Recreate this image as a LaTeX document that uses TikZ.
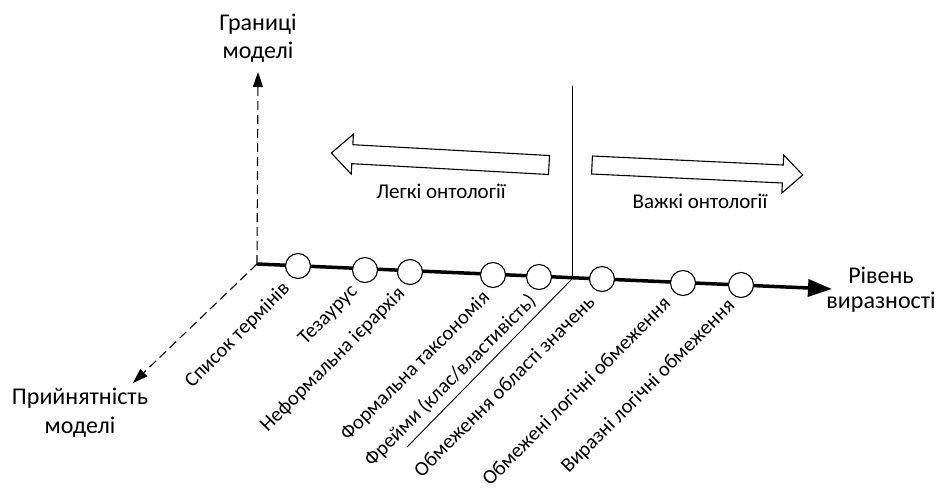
\documentclass[tikz,border=0pt]{standalone}
\usepackage{fontspec}
\setmainfont{Carlito}
\usetikzlibrary{arrows.meta,calc}
\begin{document}
\begin{tikzpicture}[x=1pt,y=-1pt,
  dot/.style={circle,draw,fill=white,minimum size=25pt,inner sep=0pt,line width=1.1pt},
  lbl/.style={rotate=45,anchor=east,inner sep=0pt,font=\fontsize{20.5}{24}\selectfont},
  axlbl/.style={align=center,inner sep=0pt,font=\fontsize{24}{29}\selectfont},
  onto/.style={inner sep=0pt,anchor=base,font=\fontsize{21}{25}\selectfont},
  dashax/.style={line width=1.1pt,dash pattern=on 9pt off 5pt,-{Triangle[length=15pt,width=10pt]}},
  hollow/.style={draw,line width=1.1pt,fill=white,line join=miter},
  thinline/.style={line width=0.9pt},
]
\useasboundingbox (0,0) rectangle (939,491);
\coordinate (O) at (257,264);
\coordinate (X) at (832,289);
\coordinate (Y) at (258,72);
\coordinate (Z) at (133,383);
\coordinate (VT) at (572,86);
\coordinate (VB) at (572,279);
\coordinate (DB) at (407,447);
% axes
\draw[dashax] (O) -- (Y);
\draw[dashax] (O) -- (Z);
\draw[line width=3.5pt,-{Triangle[length=24pt,width=17pt]}] (O) -- (X);
% divider lines
\draw[thinline] (VT) -- (VB);
\draw[thinline] (VB) -- (DB);
% circles
\node[dot] (c1) at (298,266) {};
\node[dot] (c2) at (365,270) {};
\node[dot] (c3) at (410,272) {};
\node[dot] (c4) at (493,275) {};
\node[dot] (c5) at (539,277) {};
\node[dot] (c6) at (602,279) {};
\node[dot] (c7) at (683,283) {};
\node[dot] (c8) at (741,285) {};
% rotated labels
\node[lbl] (l1) at ([shift={(-11,20)}]c1.center) {Список термінів};
\node[lbl] (l2) at ([shift={(-10,19)}]c2.center) {Тезаурус};
\node[lbl] (l3) at ([shift={(-8,19)}]c3.center) {Неформальна ієрархія};
\node[lbl] (l4) at ([shift={(-6,20)}]c4.center) {Формальна таксономія};
\node[lbl] (l5) at ([shift={(-6,21)}]c5.center) {Фрейми (клас/властивість)};
\node[lbl] (l6) at ([shift={(-11,20)}]c6.center) {Обмеження області значень};
\node[lbl] (l7) at ([shift={(-16,17)}]c7.center) {Обмежені логічні обмеження};
\node[lbl] (l8) at ([shift={(-9,18)}]c8.center) {Виразні логічні обмеження};
% hollow arrows
\begin{scope}[shift={(592,165)},rotate=-2.7]
\draw[hollow] (0,-9) -- (191,-9) -- (191,-19) -- (211,0) -- (191,19) -- (191,9) -- (0,9) -- cycle;
\end{scope}
\begin{scope}[shift={(549,165)},rotate=176.85]
\draw[hollow] (0,-9.5) -- (197,-9.5) -- (197,-20) -- (218,0) -- (197,20) -- (197,9.5) -- (0,9.5) -- cycle;
\end{scope}
% texts
\node[onto] (light) at (441,198) {Легкі онтології};
\node[onto] (heavy) at (700,208) {Важкі онтології};
\node[axlbl,font=\fontsize{24}{28}\selectfont] (ty) at (258,38) {Границі\\моделі};
\node[axlbl] (tz) at (80,413) {Прийнятність\\моделі};
\node[axlbl,font=\fontsize{24}{25}\selectfont] (tx) at (881,290) {Рівень\\виразності};
\end{tikzpicture}
\end{document}
